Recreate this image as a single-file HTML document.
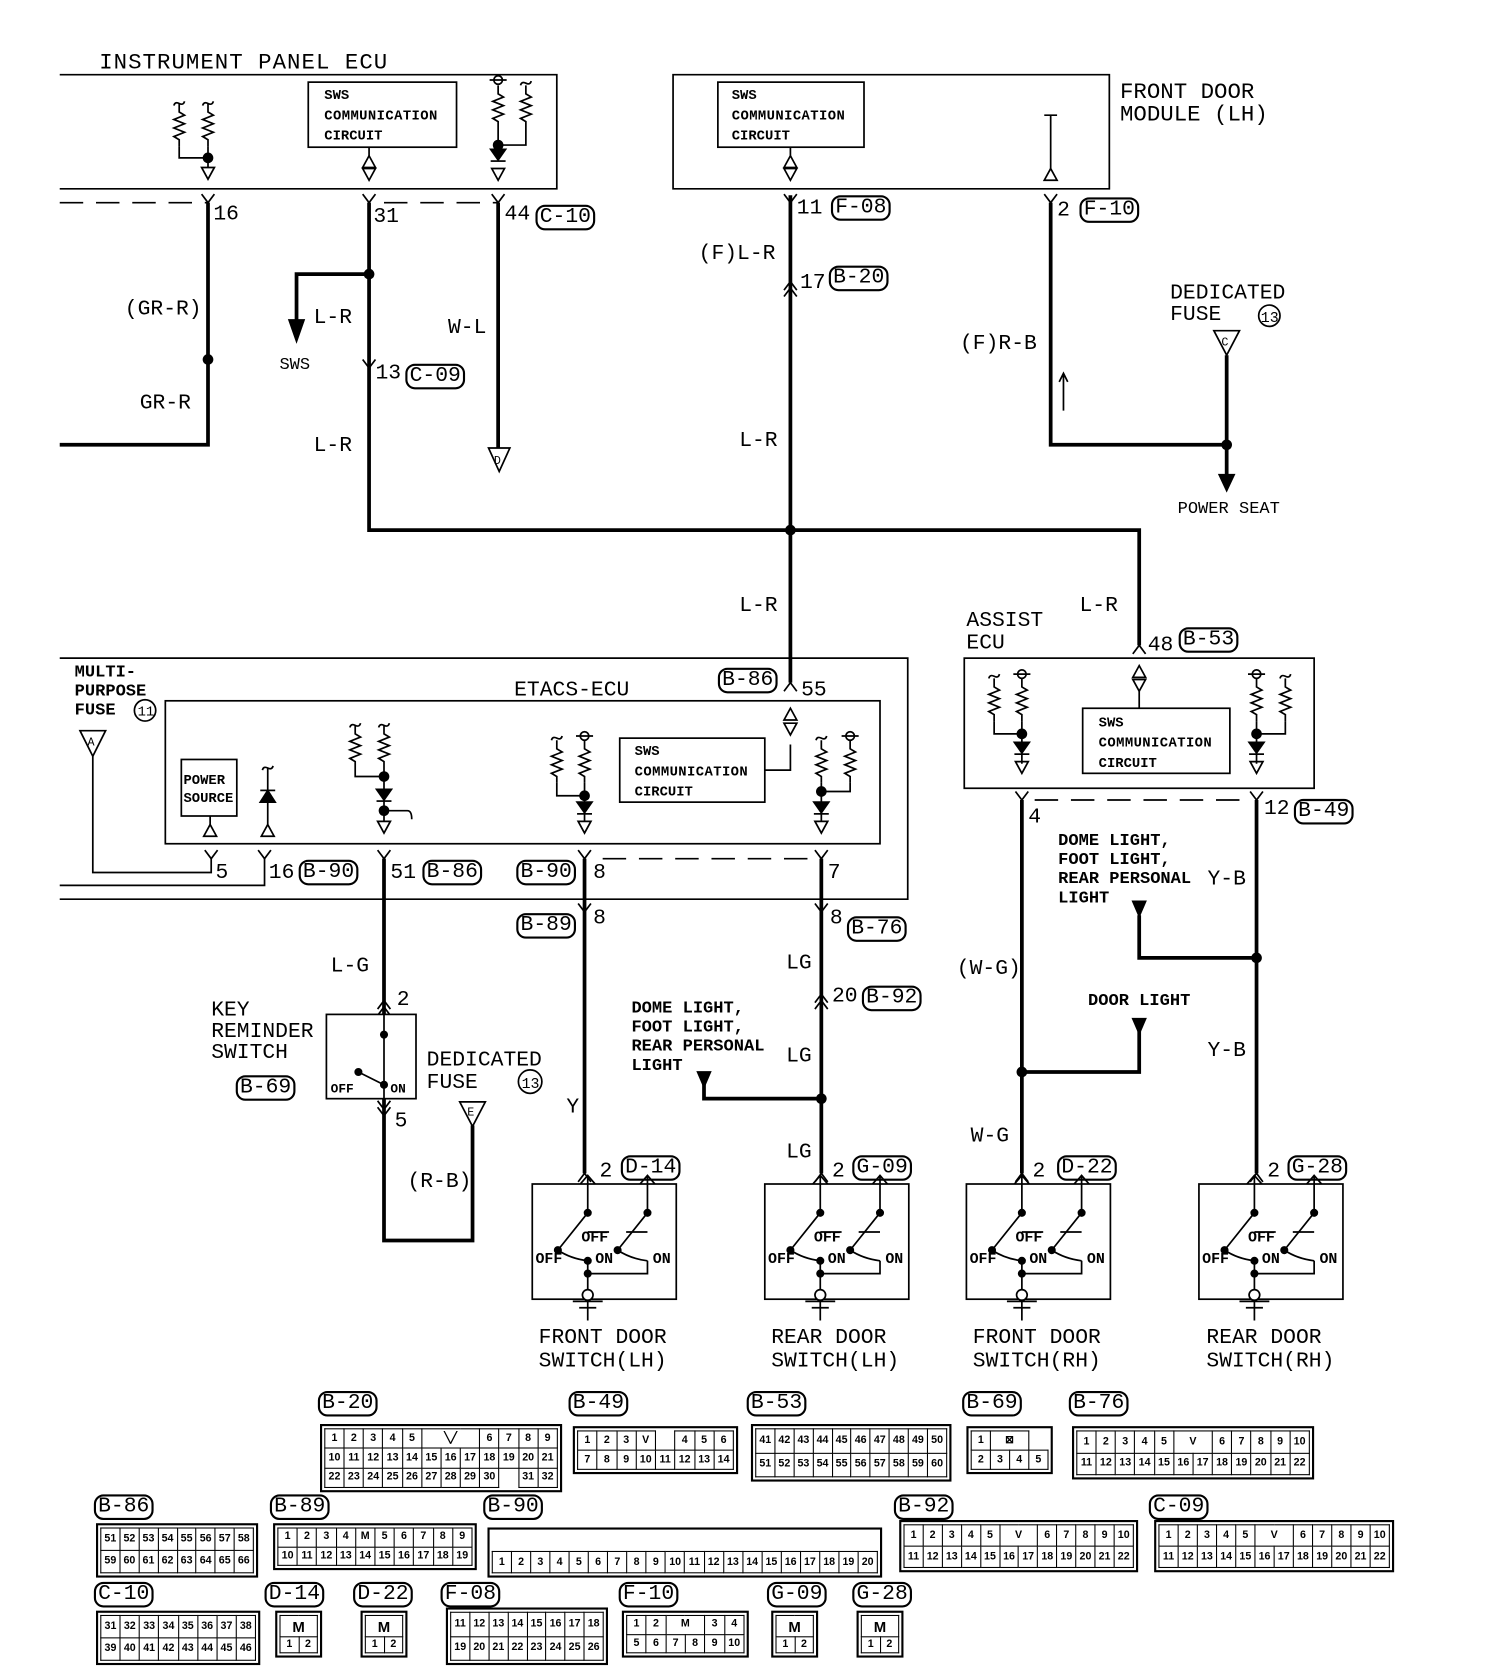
<!DOCTYPE html>
<html><head><meta charset="utf-8">
<style>
html,body{margin:0;padding:0;background:#fff;width:1504px;height:1676px;overflow:hidden}
#w{position:absolute;left:0;top:0;width:1410px;height:1571px;transform:scale(1.06667);transform-origin:0 0}
svg{position:absolute;left:0;top:0}
text{font-family:"Liberation Mono",monospace;fill:#000}
.cn{position:absolute;border:2px solid #000;padding:2px;background:#fff}
.cn table{border-collapse:collapse;width:100%;height:100%;table-layout:fixed}
.cn td{border:1.5px solid #000;font:bold 10px "Liberation Sans",sans-serif;text-align:center;padding:0;line-height:1;overflow:hidden}
.cn td.e{border:none}
.lb{position:absolute;font:20px "Liberation Mono",monospace;border:2px solid #000;border-radius:9px;padding:0 2px;line-height:20px;height:20px}
</style></head><body><div id="w">
<svg width="1410" height="1571" viewBox="0 0 1410 1571" fill="none" stroke="#000" stroke-width="1.6">
<defs>
<symbol id="res" overflow="visible"><path d="M0,0 v8 l5,3 -10,4 10,4 -10,4 10,4 -10,4 5,3 v6"/></symbol>
<symbol id="hk" overflow="visible"><path d="M-5,2 Q-4,-2 0,0 Q4,2 5,-2"/></symbol>
<symbol id="ci" overflow="visible"><circle cx="0" cy="0" r="4"/><path d="M-8,0 h16"/></symbol>
<symbol id="dio" overflow="visible"><path d="M-7,0 h14 l-7,10z" fill="#000"/><path d="M-7,11 h14"/></symbol>
<symbol id="oad" overflow="visible"><path d="M-6,0 h12 l-6,11z"/></symbol>
<symbol id="oau" overflow="visible"><path d="M-6,11 h12 l-6,-11z"/></symbol>
<symbol id="pin" overflow="visible"><path d="M-6,-8 L0,0 L6,-8"/></symbol>
<symbol id="pinu" overflow="visible"><path d="M-6,8 L0,0 L6,8"/></symbol>
<symbol id="dot" overflow="visible"><circle r="5" fill="#000" stroke="none"/></symbol>
<symbol id="sw" overflow="visible">
 <rect x="0" y="0" width="135" height="108"/>
 <path d="M52,-8 v35 M45,0 l7,-8 7,8 M108,-8 v35 M101,0 l7,-8 7,8"/>
 <path d="M52,27 l-28,35 M108,27 l-28,35 M24,62 q12,8 28,10 M80,62 q12,8 28,10" />
 <path d="M52,45 h20 M108,45 h-20"/>
 <path d="M52,72 v56 M52,84 h56 v-12"/>
 <circle cx="52" cy="27" r="3" fill="#000"/><circle cx="108" cy="27" r="3" fill="#000"/><circle cx="24" cy="62" r="3" fill="#000"/><circle cx="80" cy="62" r="3" fill="#000"/><circle cx="52" cy="72" r="3" fill="#000"/><circle cx="52" cy="84" r="3" fill="#000"/>
 <circle cx="52" cy="104" r="5" fill="#fff"/><path d="M38,110 h28 M44,116 h16"/>
</symbol>
</defs>

<!-- Instrument panel ECU -->
<text x="93" y="64" font-size="21" textLength="270" stroke="none">INSTRUMENT PANEL ECU</text>
<path d="M56,70 H522 V177 H56"/>
<use href="#hk" x="168" y="97"/><use href="#hk" x="195" y="97"/>
<use href="#res" x="168" y="97"/><use href="#res" x="195" y="97"/>
<path d="M168,137 v11 h27 M195,137 v20"/><use href="#dot" x="195" y="148"/><use href="#oad" x="195" y="157"/>
<rect x="289" y="77" width="139" height="61"/>
<text stroke="none" font-size="13" font-weight="bold"><tspan x="304" y="93">SWS</tspan><tspan x="304" y="112" textLength="106">COMMUNICATION</tspan><tspan x="304" y="131">CIRCUIT</tspan></text>
<use href="#oau" x="346" y="146"/><use href="#oad" x="346" y="158"/><path d="M346,138 v8"/>
<use href="#ci" x="467" y="75"/><use href="#hk" x="493" y="78"/>
<use href="#res" x="467" y="80"/><use href="#res" x="493" y="80"/>
<path d="M467,120 v20 M493,120 v16 h-26"/><use href="#dot" x="467" y="136"/><use href="#dio" x="467" y="140"/><use href="#oad" x="467" y="158"/>
<path d="M56,190 H195 M360,190 H467" stroke-dasharray="22,12"/>
<use href="#pin" x="195" y="190"/><use href="#pin" x="346" y="190"/><use href="#pin" x="467" y="190"/>
<g stroke-width="3.5"><path d="M195,190 V417 H56"/><path d="M346,190 V497 H1068 V605"/><path d="M346,257 H278 V300"/><path d="M467,190 V420"/></g>
<path d="M271,300 h14 l-7,20z" fill="#000"/>
<use href="#dot" x="195" y="337"/><use href="#dot" x="346" y="257"/>
<use href="#pin" x="346" y="345"/>
<path d="M458,420 h20 l-10,22z"/><text x="463" y="435" font-size="11" stroke="none">D</text>
<g stroke="none" font-size="20"><text x="200" y="206">16</text><text x="350" y="208">31</text><text x="473" y="206">44</text>
<text x="117" y="295">(GR-R)</text><text x="131" y="383">GR-R</text><text x="294" y="303">L-R</text><text x="420" y="312">W-L</text>
<text x="262" y="346" font-size="16">SWS</text><text x="352" y="355">13</text><text x="294" y="423">L-R</text></g>

<!-- Front door module -->
<path d="M631,70 H1040 V177 H631 Z"/>
<rect x="673" y="77" width="137" height="61"/>
<text stroke="none" font-size="13" font-weight="bold"><tspan x="686" y="93">SWS</tspan><tspan x="686" y="112" textLength="106">COMMUNICATION</tspan><tspan x="686" y="131">CIRCUIT</tspan></text>
<use href="#oau" x="741" y="146"/><use href="#oad" x="741" y="158"/><path d="M741,138 v8"/>
<path d="M979,108 h12 M985,108 v50"/><use href="#oau" x="985" y="158"/>
<text stroke="none" font-size="21"><tspan x="1050" y="92">FRONT DOOR</tspan><tspan x="1050" y="113">MODULE (LH)</tspan></text>
<g stroke-width="3.5"><path d="M741,183 V640"/><path d="M985,190 V417 H1150"/><path d="M1150,333 V445"/></g>
<use href="#pin" x="741" y="190"/><use href="#pin" x="985" y="190"/>
<use href="#pinu" x="741" y="264"/><use href="#pinu" x="741" y="270"/>
<path d="M997,385 V350 M993,358 l4,-8 4,8"/>
<path d="M1143,445 h14 l-7,15z" fill="#000"/>
<use href="#dot" x="1150" y="417"/><use href="#dot" x="741" y="497"/>
<path d="M1138,310 h24 l-12,23z"/><text x="1145" y="324" font-size="11" stroke="none">C</text>
<circle cx="1190" cy="296" r="10"/>
<g stroke="none" font-size="20"><text x="747" y="200">11</text><text x="655" y="243">(F)L-R</text><text x="750" y="270">17</text>
<text x="693" y="418">L-R</text><text x="693" y="573">L-R</text><text x="991" y="202">2</text><text x="900" y="327">(F)R-B</text>
<text x="1097" y="280">DEDICATED</text><text x="1097" y="300">FUSE</text><text x="1182" y="302" font-size="14">13</text>
<text x="1104" y="481" font-size="16">POWER SEAT</text><text x="1012" y="573">L-R</text></g>

<!-- ETACS -->
<path d="M56,617 H851 V843 H56"/>
<rect x="155" y="657" width="670" height="134"/>
<text x="482" y="652" font-size="20" stroke="none">ETACS-ECU</text>
<use href="#pinu" x="741" y="640"/>
<text stroke="none" font-size="16" font-weight="bold"><tspan x="70" y="634">MULTI-</tspan><tspan x="70" y="652">PURPOSE</tspan><tspan x="70" y="670">FUSE</tspan></text>
<circle cx="136" cy="666" r="10"/><text x="129" y="671" font-size="13" stroke="none">11</text>
<path d="M75,685 h24 l-12,24z"/><text x="82" y="699" font-size="11" stroke="none">A</text>
<path d="M87,709 V818 H198 V805 M56,830 H248 V805"/>
<rect x="170" y="712" width="52" height="53"/>
<text stroke="none" font-size="13" font-weight="bold"><tspan x="172" y="735">POWER</tspan><tspan x="172" y="752">SOURCE</tspan></text>
<path d="M197,765 v8"/><use href="#oau" x="197" y="773"/>
<use href="#hk" x="251" y="720"/><path d="M251,720 v53"/><path d="M244,752 h14 l-7,-11z" fill="#000"/><path d="M244,741 h14"/><use href="#oau" x="251" y="773"/>
<use href="#hk" x="333" y="680"/><use href="#hk" x="360" y="680"/><use href="#res" x="333" y="680"/><use href="#res" x="360" y="680"/>
<path d="M333,720 v8 h27 M360,720 v50 M360,760 h22 q4,0 4,8"/><use href="#dot" x="360" y="728"/><use href="#dio" x="360" y="740"/><use href="#dot" x="360" y="760"/><use href="#oad" x="360" y="770"/>
<use href="#hk" x="522" y="692"/><use href="#ci" x="548" y="690"/><use href="#res" x="522" y="694"/><use href="#res" x="548" y="694"/>
<path d="M522,734 v12 h26 M548,734 v36"/><use href="#dot" x="548" y="746"/><use href="#dio" x="548" y="752"/><use href="#oad" x="548" y="770"/>
<rect x="581" y="692" width="136" height="60"/>
<text stroke="none" font-size="13" font-weight="bold"><tspan x="595" y="708">SWS</tspan><tspan x="595" y="727" textLength="106">COMMUNICATION</tspan><tspan x="595" y="746">CIRCUIT</tspan></text>
<path d="M717,722 h24 v-24"/><use href="#oau" x="741" y="664"/><use href="#oad" x="741" y="678"/>
<use href="#hk" x="770" y="692"/><use href="#ci" x="797" y="690"/><use href="#res" x="770" y="694"/><use href="#res" x="797" y="694"/>
<path d="M797,734 v8 h-27 M770,734 v36"/><use href="#dot" x="770" y="742"/><use href="#dio" x="770" y="752"/><use href="#oad" x="770" y="770"/>
<path d="M565,805 H765" stroke-dasharray="22,12"/>
<use href="#pin" x="198" y="805"/><use href="#pin" x="248" y="805"/><use href="#pin" x="360" y="805"/><use href="#pin" x="548" y="805"/><use href="#pin" x="770" y="805"/>
<g stroke="none" font-size="20"><text x="751" y="652">55</text><text x="202" y="823">5</text><text x="252" y="823">16</text><text x="366" y="823">51</text><text x="556" y="823">8</text><text x="776" y="823">7</text></g>

<!-- lower left wires -->
<g stroke-width="3.5"><path d="M360,805 V1163 H443 V1055"/><path d="M548,805 V1100"/><path d="M770,805 V1100"/><path d="M770,1030 H660 V1015"/></g>
<path d="M654,1005 h12 l-6,14z" fill="#000"/>
<use href="#dot" x="770" y="1030"/>
<use href="#pin" x="548" y="855"/><use href="#pin" x="770" y="855"/><use href="#pinu" x="360" y="938"/><use href="#pinu" x="360" y="944"/><use href="#pin" x="360" y="1040"/><use href="#pin" x="360" y="1046"/><use href="#pinu" x="770" y="932"/><use href="#pinu" x="770" y="938"/>
<use href="#pinu" x="548" y="1100"/><use href="#pinu" x="770" y="1100"/><use href="#pinu" x="958" y="1100"/><use href="#pinu" x="1178" y="1100"/>
<rect x="306" y="951" width="84" height="79" fill="#fff"/>
<path d="M360,951 v79 M360,1017 l-24,-12"/><circle cx="360" cy="970" r="3" fill="#000"/><circle cx="360" cy="1017" r="3" fill="#000"/><circle cx="336" cy="1005" r="3" fill="#000"/>
<text stroke="none" font-size="12" font-weight="bold"><tspan x="310" y="1024">OFF</tspan><tspan x="366" y="1024">ON</tspan></text>
<path d="M431,1033 h24 l-12,23z"/><text x="438" y="1046" font-size="11" stroke="none">E</text>
<circle cx="497" cy="1014" r="11"/>
<g stroke="none" font-size="20"><text x="310" y="911">L-G</text><text x="372" y="942">2</text><text x="370" y="1056">5</text><text x="382" y="1113">(R-B)</text>
<text x="198" y="952">KEY</text><text x="198" y="972">REMINDER</text><text x="198" y="992">SWITCH</text>
<text x="400" y="999">DEDICATED</text><text x="400" y="1020">FUSE</text><text x="489" y="1020" font-size="14">13</text>
<text x="556" y="866">8</text><text x="531" y="1043">Y</text><text x="562" y="1103">2</text>
<text x="778" y="866">8</text><text x="737" y="908">LG</text><text x="780" y="939">20</text><text x="737" y="995">LG</text><text x="737" y="1085">LG</text><text x="780" y="1103">2</text>
<text stroke="none" font-size="16" font-weight="bold"><tspan x="592" y="949">DOME LIGHT,</tspan><tspan x="592" y="967">FOOT LIGHT,</tspan><tspan x="592" y="985">REAR PERSONAL</tspan><tspan x="592" y="1003">LIGHT</tspan></text></g>

<!-- Assist ECU -->
<rect x="904" y="617" width="328" height="122"/>
<text stroke="none" font-size="20"><tspan x="906" y="587">ASSIST</tspan><tspan x="906" y="608">ECU</tspan><tspan x="1076" y="610">48</tspan></text>
<use href="#pinu" x="1068" y="605"/>
<use href="#oau" x="1068" y="624"/><use href="#oad" x="1068" y="637"/><path d="M1068,648 v16"/>
<use href="#hk" x="932" y="634"/><use href="#ci" x="958" y="632"/><use href="#res" x="932" y="636"/><use href="#res" x="958" y="636"/>
<path d="M932,676 v12 h26 M958,676 v40"/><use href="#dot" x="958" y="688"/><use href="#dio" x="958" y="696"/><use href="#oad" x="958" y="714"/>
<rect x="1015" y="664" width="138" height="61"/>
<text stroke="none" font-size="13" font-weight="bold"><tspan x="1030" y="681">SWS</tspan><tspan x="1030" y="700" textLength="106">COMMUNICATION</tspan><tspan x="1030" y="719">CIRCUIT</tspan></text>
<use href="#ci" x="1178" y="632"/><use href="#hk" x="1205" y="634"/><use href="#res" x="1178" y="636"/><use href="#res" x="1205" y="636"/>
<path d="M1205,676 v12 h-27 M1178,676 v40"/><use href="#dot" x="1178" y="688"/><use href="#dio" x="1178" y="696"/><use href="#oad" x="1178" y="714"/>
<path d="M970,750 H1172" stroke-dasharray="22,12"/>
<use href="#pin" x="958" y="750"/><use href="#pin" x="1178" y="750"/>
<g stroke-width="3.5"><path d="M958,750 V1100"/><path d="M1178,750 V1100"/><path d="M958,1005 H1068 V965"/><path d="M1178,898 H1068 V858"/></g>
<path d="M1062,955 h12 l-6,14z M1062,845 h12 l-6,14z" fill="#000"/>
<use href="#dot" x="958" y="1005"/><use href="#dot" x="1178" y="898"/>
<g stroke="none" font-size="20"><text x="964" y="771">4</text><text x="1185" y="763">12</text><text x="1132" y="829">Y-B</text><text x="1132" y="990">Y-B</text>
<text x="897" y="913">(W-G)</text><text x="910" y="1070">W-G</text><text x="968" y="1103">2</text><text x="1188" y="1103">2</text>
<text font-size="16" font-weight="bold"><tspan x="992" y="792">DOME LIGHT,</tspan><tspan x="992" y="810">FOOT LIGHT,</tspan><tspan x="992" y="828">REAR PERSONAL</tspan><tspan x="992" y="846">LIGHT</tspan><tspan x="1020" y="942">DOOR LIGHT</tspan></text></g>

<!-- switches -->
<use href="#sw" x="499" y="1110"/><use href="#sw" x="717" y="1110"/><use href="#sw" x="906" y="1110"/><use href="#sw" x="1124" y="1110"/>
<g stroke="none" font-size="14" font-weight="bold">
<text x="545" y="1164">OFF</text><text x="502" y="1184">OFF</text><text x="558" y="1184">ON</text><text x="612" y="1184">ON</text>
<text x="763" y="1164">OFF</text><text x="720" y="1184">OFF</text><text x="776" y="1184">ON</text><text x="830" y="1184">ON</text>
<text x="952" y="1164">OFF</text><text x="909" y="1184">OFF</text><text x="965" y="1184">ON</text><text x="1019" y="1184">ON</text>
<text x="1170" y="1164">OFF</text><text x="1127" y="1184">OFF</text><text x="1183" y="1184">ON</text><text x="1237" y="1184">ON</text></g>
<g stroke="none" font-size="20"><text x="505" y="1259">FRONT DOOR</text><text x="505" y="1281">SWITCH(LH)</text>
<text x="723" y="1259">REAR DOOR</text><text x="723" y="1281">SWITCH(LH)</text>
<text x="912" y="1259">FRONT DOOR</text><text x="912" y="1281">SWITCH(RH)</text>
<text x="1131" y="1259">REAR DOOR</text><text x="1131" y="1281">SWITCH(RH)</text></g>
</svg>

<!-- boxed labels -->
<div class="lb" style="left:502px;top:192px">C-10</div>
<div class="lb" style="left:380px;top:341px">C-09</div>
<div class="lb" style="left:779px;top:183px">F-08</div>
<div class="lb" style="left:777px;top:249px">B-20</div>
<div class="lb" style="left:1012px;top:185px">F-10</div>
<div class="lb" style="left:673px;top:626px">B-86</div>
<div class="lb" style="left:1105px;top:588px">B-53</div>
<div class="lb" style="left:1213px;top:749px">B-49</div>
<div class="lb" style="left:280px;top:806px">B-90</div>
<div class="lb" style="left:396px;top:806px">B-86</div>
<div class="lb" style="left:484px;top:806px">B-90</div>
<div class="lb" style="left:484px;top:856px">B-89</div>
<div class="lb" style="left:794px;top:859px">B-76</div>
<div class="lb" style="left:808px;top:924px">B-92</div>
<div class="lb" style="left:221px;top:1008px">B-69</div>
<div class="lb" style="left:582px;top:1083px">D-14</div>
<div class="lb" style="left:799px;top:1083px">G-09</div>
<div class="lb" style="left:991px;top:1083px">D-22</div>
<div class="lb" style="left:1207px;top:1083px">G-28</div>

<div class="lb" style="left:298px;top:1304px">B-20</div>
<div class="lb" style="left:533px;top:1304px">B-49</div>
<div class="lb" style="left:700px;top:1304px">B-53</div>
<div class="lb" style="left:902px;top:1304px">B-69</div>
<div class="lb" style="left:1002px;top:1304px">B-76</div>
<div class="lb" style="left:88px;top:1401px">B-86</div>
<div class="lb" style="left:253px;top:1401px">B-89</div>
<div class="lb" style="left:453px;top:1401px">B-90</div>
<div class="lb" style="left:838px;top:1401px">B-92</div>
<div class="lb" style="left:1077px;top:1401px">C-09</div>
<div class="lb" style="left:88px;top:1483px">C-10</div>
<div class="lb" style="left:248px;top:1483px">D-14</div>
<div class="lb" style="left:331px;top:1483px">D-22</div>
<div class="lb" style="left:413px;top:1483px">F-08</div>
<div class="lb" style="left:580px;top:1483px">F-10</div>
<div class="lb" style="left:719px;top:1483px">G-09</div>
<div class="lb" style="left:799px;top:1483px">G-28</div>

<!-- connectors -->
<div class="cn" style="left:300px;top:1335px;width:219px;height:56px"><table>
<tr><td>1</td><td>2</td><td>3</td><td>4</td><td>5</td><td colspan="3">╲╱</td><td>6</td><td>7</td><td>8</td><td>9</td></tr>
<tr><td>10</td><td>11</td><td>12</td><td>13</td><td>14</td><td>15</td><td>16</td><td>17</td><td>18</td><td>19</td><td>20</td><td>21</td></tr>
<tr><td>22</td><td>23</td><td>24</td><td>25</td><td>26</td><td>27</td><td>28</td><td>29</td><td>30</td><td class="e"></td><td>31</td><td>32</td></tr></table></div>
<div class="cn" style="left:537px;top:1337px;width:147px;height:37px"><table>
<tr><td>1</td><td>2</td><td>3</td><td>V</td><td class="e"></td><td>4</td><td>5</td><td>6</td></tr>
<tr><td>7</td><td>8</td><td>9</td><td>10</td><td>11</td><td>12</td><td>13</td><td>14</td></tr></table></div>
<div class="cn" style="left:704px;top:1335px;width:180px;height:46px"><table>
<tr><td>41</td><td>42</td><td>43</td><td>44</td><td>45</td><td>46</td><td>47</td><td>48</td><td>49</td><td>50</td></tr>
<tr><td>51</td><td>52</td><td>53</td><td>54</td><td>55</td><td>56</td><td>57</td><td>58</td><td>59</td><td>60</td></tr></table></div>
<div class="cn" style="left:906px;top:1337px;width:73px;height:37px"><table>
<tr><td>1</td><td colspan="2">⊠</td><td class="e"></td></tr>
<tr><td>2</td><td>3</td><td>4</td><td>5</td></tr></table></div>
<div class="cn" style="left:1005px;top:1337px;width:219px;height:42px"><table>
<tr><td>1</td><td>2</td><td>3</td><td>4</td><td>5</td><td colspan="2">V</td><td>6</td><td>7</td><td>8</td><td>9</td><td>10</td></tr>
<tr><td>11</td><td>12</td><td>13</td><td>14</td><td>15</td><td>16</td><td>17</td><td>18</td><td>19</td><td>20</td><td>21</td><td>22</td></tr></table></div>

<div class="cn" style="left:90px;top:1428px;width:144px;height:43px"><table>
<tr><td>51</td><td>52</td><td>53</td><td>54</td><td>55</td><td>56</td><td>57</td><td>58</td></tr>
<tr><td>59</td><td>60</td><td>61</td><td>62</td><td>63</td><td>64</td><td>65</td><td>66</td></tr></table></div>
<div class="cn" style="left:256px;top:1428px;width:183px;height:36px"><table>
<tr><td>1</td><td>2</td><td>3</td><td>4</td><td>M</td><td>5</td><td>6</td><td>7</td><td>8</td><td>9</td></tr>
<tr><td>10</td><td>11</td><td>12</td><td>13</td><td>14</td><td>15</td><td>16</td><td>17</td><td>18</td><td>19</td></tr></table></div>
<div class="cn" style="left:457px;top:1432px;width:362px;height:39px"><table>
<tr><td class="e" colspan="20" style="height:18px"></td></tr>
<tr><td>1</td><td>2</td><td>3</td><td>4</td><td>5</td><td>6</td><td>7</td><td>8</td><td>9</td><td>10</td><td>11</td><td>12</td><td>13</td><td>14</td><td>15</td><td>16</td><td>17</td><td>18</td><td>19</td><td>20</td></tr></table></div>
<div class="cn" style="left:843px;top:1425px;width:216px;height:41px"><table>
<tr><td>1</td><td>2</td><td>3</td><td>4</td><td>5</td><td colspan="2">V</td><td>6</td><td>7</td><td>8</td><td>9</td><td>10</td></tr>
<tr><td>11</td><td>12</td><td>13</td><td>14</td><td>15</td><td>16</td><td>17</td><td>18</td><td>19</td><td>20</td><td>21</td><td>22</td></tr></table></div>
<div class="cn" style="left:1082px;top:1425px;width:217px;height:41px"><table>
<tr><td>1</td><td>2</td><td>3</td><td>4</td><td>5</td><td colspan="2">V</td><td>6</td><td>7</td><td>8</td><td>9</td><td>10</td></tr>
<tr><td>11</td><td>12</td><td>13</td><td>14</td><td>15</td><td>16</td><td>17</td><td>18</td><td>19</td><td>20</td><td>21</td><td>22</td></tr></table></div>

<div class="cn" style="left:90px;top:1510px;width:146px;height:43px"><table>
<tr><td>31</td><td>32</td><td>33</td><td>34</td><td>35</td><td>36</td><td>37</td><td>38</td></tr>
<tr><td>39</td><td>40</td><td>41</td><td>42</td><td>43</td><td>44</td><td>45</td><td>46</td></tr></table></div>
<div class="cn" style="left:258px;top:1510px;width:36px;height:36px"><table><tr><td colspan="2" style="font-size:14px">M</td></tr><tr><td>1</td><td>2</td></tr></table></div>
<div class="cn" style="left:338px;top:1510px;width:36px;height:36px"><table><tr><td colspan="2" style="font-size:14px">M</td></tr><tr><td>1</td><td>2</td></tr></table></div>
<div class="cn" style="left:418px;top:1507px;width:144px;height:46px"><table>
<tr><td>11</td><td>12</td><td>13</td><td>14</td><td>15</td><td>16</td><td>17</td><td>18</td></tr>
<tr><td>19</td><td>20</td><td>21</td><td>22</td><td>23</td><td>24</td><td>25</td><td>26</td></tr></table></div>
<div class="cn" style="left:583px;top:1510px;width:111px;height:36px"><table>
<tr><td>1</td><td>2</td><td colspan="2">M</td><td>3</td><td>4</td></tr>
<tr><td>5</td><td>6</td><td>7</td><td>8</td><td>9</td><td>10</td></tr></table></div>
<div class="cn" style="left:723px;top:1510px;width:36px;height:36px"><table><tr><td colspan="2" style="font-size:14px">M</td></tr><tr><td>1</td><td>2</td></tr></table></div>
<div class="cn" style="left:803px;top:1510px;width:36px;height:36px"><table><tr><td colspan="2" style="font-size:14px">M</td></tr><tr><td>1</td><td>2</td></tr></table></div>
</div></body></html>
